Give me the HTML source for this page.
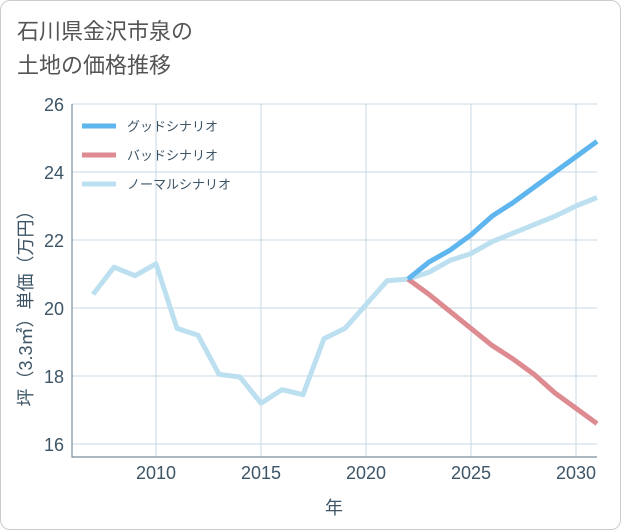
<!DOCTYPE html>
<html><head><meta charset="utf-8"><style>
body{margin:0;background:#fff;}
#wrap{position:relative;width:619px;height:528px;border:1px solid #ccc;border-radius:10px;overflow:hidden;background:#fff;font-family:"Liberation Sans","Noto Sans CJK JP",sans-serif;}
#title{position:absolute;left:16px;top:14px;font-size:22px;line-height:34px;color:#555;}
</style></head><body>
<div id="wrap">
<div id="title">石川県金沢市泉の<br>土地の価格推移</div>
<svg id="chart" width="621" height="530" style="position:absolute;left:-1px;top:-1px"></svg>
</div>
<script>
const years=[2007,2008,2009,2010,2011,2012,2013,2014,2015,2016,2017,2018,2019,2020,2021,2022,2023,2024,2025,2026,2027,2028,2029,2030,2031];
const normal=[20.4,21.2,20.95,21.3,19.4,19.2,18.05,17.97,17.2,17.6,17.45,19.1,19.4,20.1,20.8,20.85,21.05,21.4,21.6,21.95,22.2,22.45,22.7,23.0,23.25];
const futureYears=[2022,2023,2024,2025,2026,2027,2028,2029,2030,2031];
const good=[20.85,21.35,21.7,22.15,22.7,23.1,23.55,24.0,24.45,24.9];
const bad=[20.85,20.4,19.9,19.4,18.9,18.5,18.05,17.5,17.05,16.6];
const yTicks=[16,18,20,22,24,26];
const xTicks=[2010,2015,2020,2025,2030];
const NS="http://www.w3.org/2000/svg";
const svg=document.getElementById('chart');
const L=72,R=597,T=104,B=457;
const x=v=>L+(v-2006)/(2031-2006)*(R-L);
const y=v=>444-(v-16)*34;
function mk(t,a){const e=document.createElementNS(NS,t);for(const k in a)e.setAttribute(k,a[k]);svg.appendChild(e);return e;}
yTicks.forEach(t=>{
 const g=mk('line',{x1:L,x2:R,y1:y(t),y2:y(t),stroke:'#c9d8e3','stroke-width':1});
 
 
 const tx=mk('text',{x:L-8,y:y(t)+7,'text-anchor':'end','font-size':18,fill:'#3d5566'});
 tx.textContent=t;
 
 
});
xTicks.forEach(t=>{
 const g=mk('line',{x1:x(t),x2:x(t),y1:T,y2:B,stroke:'#c9d8e3','stroke-width':1});
 
 
 const tx=mk('text',{x:x(t),y:B+22,'text-anchor':'middle','font-size':18,fill:'#3d5566'});
 tx.textContent=t;
 
 
});
const ax=mk('path',{d:`M${L},${T}V${B}H${R}`,fill:'none',stroke:'#7a8c99','stroke-width':1.2});


function line(xs,vs,c,name){
 const p=mk('polyline',{points:xs.map((v,i)=>x(v)+','+y(vs[i])).join(' '),fill:'none',stroke:c,'stroke-width':5,'stroke-linejoin':'round'});
 
 
}
line(years,normal,'#bde0f0','normal-scenario-line');
line(futureYears,bad,'#dd8a90','bad-scenario-line');
line(futureYears,good,'#5fb6ee','good-scenario-line');
const legend=[['グッドシナリオ','#5fb6ee'],['バッドシナリオ','#dd8a90'],['ノーマルシナリオ','#bde0f0']];
legend.forEach((d,i)=>{
 const yy=126+i*29;
 const l=mk('line',{x1:82,x2:116,y1:yy,y2:yy,stroke:d[1],'stroke-width':5});
 
 
 const t=mk('text',{x:127,y:yy+5,'font-size':13,fill:'#3d5566'});
 t.textContent=d[0];
 
 
});
const xt=mk('text',{x:334,y:514,'text-anchor':'middle','font-size':18,fill:'#3d5566'});
xt.textContent='年';


const yt=mk('text',{x:0,y:0,'text-anchor':'middle','font-size':18,fill:'#3d5566',transform:'translate(32,304) rotate(-90)'});
yt.textContent='坪（3.3㎡）単価（万円）';


</script>
</body></html>
